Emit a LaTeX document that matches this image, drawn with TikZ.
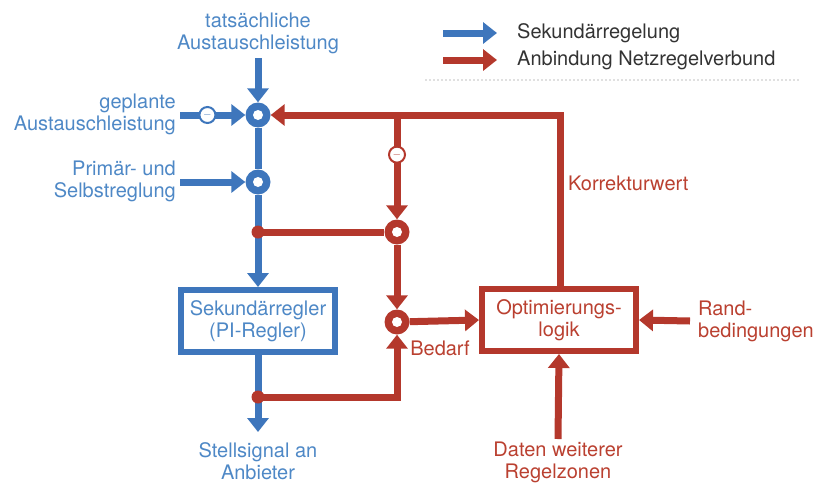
\documentclass[tikz,border=0pt]{standalone}
\usepackage{fontspec}
\setmainfont{TeX Gyre Heros}
\usetikzlibrary{arrows.meta}
\definecolor{lblue}{RGB}{62,118,188}
\definecolor{lred}{RGB}{180,56,44}
\definecolor{tblue}{RGB}{78,136,198}
\definecolor{tred}{RGB}{186,64,48}
\tikzset{
  every node/.style={font=\fontsize{20}{22}\selectfont},
  bline/.style={draw=lblue, line width=7pt},
  rline/.style={draw=lred, line width=7pt},
  tipped/.style={-{Triangle[length=14pt,width=21pt]}},
  junc/.style={circle, fill=#1, minimum size=25pt, inner sep=0pt,
    path picture={\fill[white] (path picture bounding box.center) circle (5pt);}},
  dotnode/.style={circle, fill=#1, minimum size=13pt, inner sep=0pt},
  minusnode/.style={circle, draw=#1, line width=2pt, fill=white, minimum size=16pt, inner sep=0pt,
    font=\fontsize{11}{11}\selectfont\bfseries, text=#1},
  btext/.style={text=tblue, align=center, inner sep=0pt},
  rtext/.style={text=tred, align=center, inner sep=0pt},
  blockbox/.style={draw=#1, line width=6pt, fill=white, minimum width=154pt, minimum height=62pt, inner sep=0pt},
}
\begin{document}
\begin{tikzpicture}[x=1pt,y=-1pt]
\useasboundingbox (0,0) rectangle (819,482);
% legend
\coordinate (lb0) at (443,33);
\coordinate (lb1) at (497,33);
\coordinate (lr0) at (443,60);
\coordinate (lr1) at (497,60);
\draw[bline, tipped] (lb0) -- (lb1);
\draw[rline, tipped] (lr0) -- (lr1);
\node[text=black!80, anchor=west, inner sep=0pt] (leg1) at (517,33) {Sekundärregelung};
\node[text=black!80, anchor=west, inner sep=0pt] (leg2) at (517,60) {Anbindung Netzregelverbund};
\draw[black!12, line width=2pt, dotted] (425,80) -- (800,80);

% text nodes
\node[btext] (tat) at (258,33) {tatsächliche\\Austauschleistung};
\node[btext, align=right, anchor=east] (gep) at (176,114) {geplante\\Austauschleistung};
\node[btext, align=right, anchor=east] (prim) at (176,181) {Primär- und\\Selbstreglung};
\node[btext, anchor=north] (stell) at (258,442) {Stellsignal an\\Anbieter};
\node[rtext, anchor=north] (daten) at (558,442) {Daten weiterer\\Regelzonen};
\node[rtext, align=left, anchor=west] (rand) at (698,321) {Rand-\\bedingungen};
\node[rtext, anchor=west] (korr) at (568,183) {Korrekturwert};
\node[rtext] (bedarf) at (440,348) {Bedarf};

% blocks
\node[blockbox=lblue, text=tblue, align=center] (sek) at (258,321) {Sekundärregler\\(PI-Regler)};
\node[blockbox=lred, text=tred, align=center] (opt) at (559,320) {Optimierungs-\\logik};

% junctions
\node[junc=lblue] (j1) at (258,115) {};
\node[junc=lblue] (j2) at (258,182) {};
\node[junc=lred] (j3) at (397,232) {};
\node[junc=lred] (j4) at (397,322) {};
\coordinate (br) at (397,115);
\coordinate (kc) at (560,115);
\coordinate (d1c) at (258,232);
\coordinate (d2c) at (258,397);
\coordinate (tatend) at (258,58);
\coordinate (gepend) at (180,115);
\coordinate (primend) at (180,182);
\coordinate (optn) at (560,288);

% blue paths
\draw[bline, tipped] (tatend) -- (j1);
\draw[bline, tipped] (gepend) -- node[minusnode=lblue, pos=0.42] (m1) {$-$} (j1);
\draw[bline, tipped] (primend) -- (j2);
\draw[bline] (j1) -- (j2);
\draw[bline, tipped] (j2) -- (sek.north);
\draw[bline, tipped] (sek.south) -- ([yshift=10pt]stell.north);

% red paths
\draw[rline, tipped] (optn) -- (kc) -- (j1);
\draw[rline, tipped] (br) -- node[minusnode=lred, pos=0.38] (m2) {$-$} (j3);
\draw[rline] (d1c) -- (j3);
\draw[rline, tipped] (j3) -- (j4);
\draw[rline, tipped] (d2c) -| (j4);
\draw[rline, tipped] (j4) -- (opt.west);
\draw[rline, tipped] ([xshift=-8pt]rand.west) -- (opt.east);
\draw[rline, tipped] ([yshift=3pt]daten.north) -- (opt.south);

% dots on top
\node[dotnode=lred] (d1) at (d1c) {};
\node[dotnode=lred] (d2) at (d2c) {};
\end{tikzpicture}
\end{document}
